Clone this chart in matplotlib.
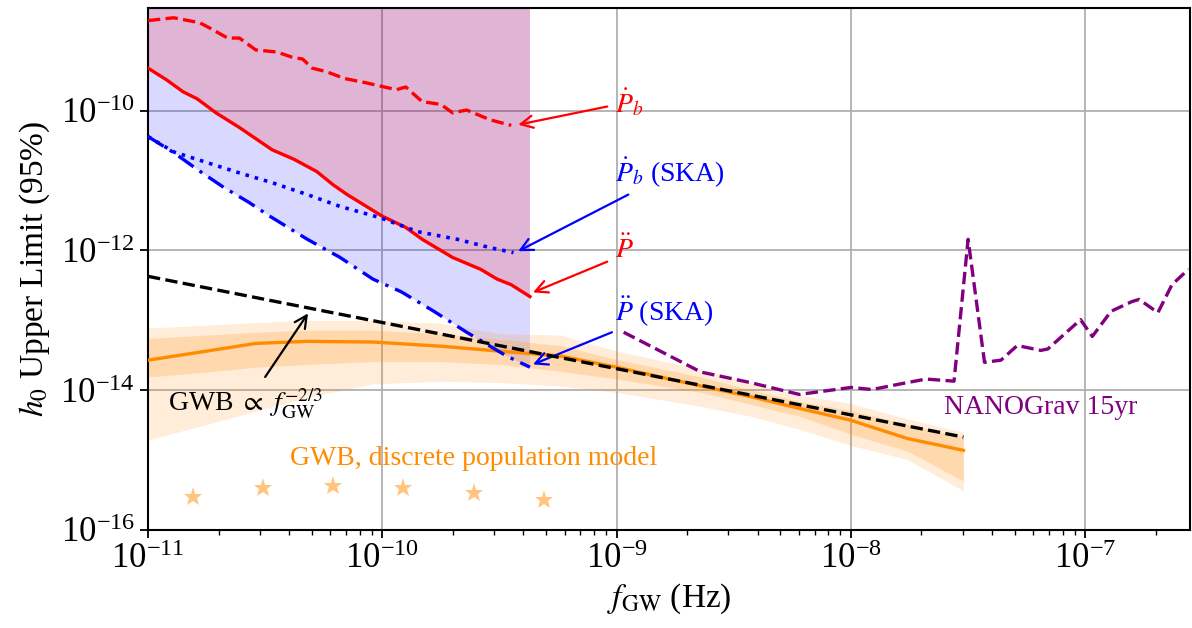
import numpy as np
import matplotlib
matplotlib.use('Agg')
import matplotlib.pyplot as plt
from matplotlib.ticker import FixedLocator, LogLocator, NullLocator, NullFormatter

plt.rcParams['font.family'] = ['Liberation Serif', 'DejaVu Serif']
plt.rcParams['mathtext.fontset'] = 'stix'

# ---------------- data (log10 of frequency [Hz] and strain) ----------------
# Pdot_b (current timing) upper limit - red dashed
pb_dot_logf = [-11.0, -10.89, -10.78, -10.74, -10.66, -10.61, -10.54, -10.45, -10.38, -10.34, -10.30,
               -10.24, -10.16, -10.07, -9.94, -9.90, -9.83, -9.75, -9.70, -9.64, -9.54, -9.45]
pb_dot_logh = [-8.71, -8.67, -8.74, -8.81, -8.96, -8.96, -9.13, -9.16, -9.24, -9.26, -9.39,
               -9.44, -9.54, -9.60, -9.70, -9.66, -9.87, -9.91, -10.03, -9.99, -10.13, -10.21]
# P double dot - red solid
p_ddot_logf = [-11.0, -10.92, -10.85, -10.79, -10.71, -10.61, -10.47, -10.38, -10.28, -10.21,
               -10.15, -10.00, -9.95, -9.90, -9.83, -9.70, -9.58, -9.51, -9.45, -9.37]
p_ddot_logh = [-9.39, -9.56, -9.73, -9.83, -10.03, -10.24, -10.56, -10.69, -10.87, -11.06,
               -11.20, -11.51, -11.59, -11.67, -11.84, -12.10, -12.27, -12.41, -12.49, -12.66]
# Pdot_b (SKA) - blue dotted
pb_dot_ska_logf = [-11.0, -10.89, -10.75, -10.61, -10.47, -10.32, -10.18, -10.01, -9.85, -9.68, -9.54, -9.44]
pb_dot_ska_logh = [-10.37, -10.59, -10.74, -10.89, -11.03, -11.20, -11.37, -11.53, -11.73, -11.84, -11.96, -12.03]
# P double dot (SKA) - blue dash-dot
p_ddot_ska_logf = [-11.0, -10.89, -10.79, -10.68, -10.57, -10.48, -10.32, -10.18, -10.04, -9.92,
                   -9.78, -9.64, -9.54, -9.47, -9.37]
p_ddot_ska_logh = [-10.37, -10.60, -10.84, -11.09, -11.31, -11.51, -11.84, -12.10, -12.41, -12.59,
                   -12.87, -13.17, -13.37, -13.51, -13.67]
# GWB power law  h ~ f^{-2/3}
gwb_pl_logf = [-11.0, -7.52]
gwb_pl_logh = [-12.37, -14.67]
# GWB discrete population model: median, 1-sigma and 2-sigma bands
gwb_pop_logf = [-11.0, -10.75, -10.54, -10.32, -10.04, -9.75, -9.50, -9.24, -9.00, -8.64,
                -8.43, -8.22, -8.00, -7.76, -7.52]
gwb_pop_med = [-13.57, -13.44, -13.33, -13.30, -13.31, -13.37, -13.44, -13.51, -13.67, -13.94,
               -14.09, -14.26, -14.43, -14.69, -14.86]
gwb_pop_1s_hi = [-13.26, -13.21, -13.17, -13.14, -13.14, -13.19, -13.27, -13.36, -13.56, -13.81,
                 -13.99, -14.16, -14.29, -14.49, -14.67]
gwb_pop_1s_lo = [-13.81, -13.74, -13.67, -13.63, -13.59, -13.59, -13.63, -13.73, -13.84, -14.03,
                 -14.20, -14.37, -14.63, -14.87, -15.30]
gwb_pop_2s_hi = [-13.11, -13.07, -13.03, -13.00, -13.00, -13.04, -13.19, -13.21, -13.44, -13.70,
                 -13.89, -14.07, -14.19, -14.41, -14.60]
gwb_pop_2s_lo = [-14.71, -14.49, -14.30, -14.10, -13.91, -13.87, -13.89, -13.94, -14.03, -14.23,
                 -14.37, -14.56, -14.79, -14.99, -15.44]
# discrete sources (stars)
stars_logf = [-10.81, -10.51, -10.21, -9.91, -9.61, -9.31]
stars_logh = [-15.53, -15.40, -15.37, -15.40, -15.47, -15.57]
# NANOGrav 15yr - purple dashed
nano_logf = [-8.97, -8.64, -8.43, -8.22, -8.00, -7.91, -7.79, -7.68, -7.56, -7.50, -7.43, -7.36,
             -7.29, -7.19, -7.16, -7.02, -6.97, -6.89, -6.80, -6.77, -6.69, -6.63, -6.56]
nano_logh = [-13.17, -13.74, -13.89, -14.06, -13.96, -13.99, -13.91, -13.84, -13.87, -11.84, -13.60, -13.57,
             -13.36, -13.43, -13.41, -12.99, -13.23, -12.87, -12.73, -12.70, -12.89, -12.49, -12.27]

x_ticks_log = [-11, -10, -9, -8, -7]
y_ticks_log = [-16, -14, -12, -10]

P = lambda a: 10.0 ** np.asarray(a, dtype=float)

fig = plt.figure(figsize=(11.92, 6.28), dpi=100)
ax = fig.add_axes([148 / 1192, 1 - 530 / 628, (1190 - 148) / 1192, (530 - 8) / 628])
ax.set_xscale('log')
ax.set_yscale('log')
ax.set_xlim(1e-11, 10 ** -6.553)
ax.set_ylim(1e-16, 10 ** -8.53)

TOP = 1.0
# shaded exclusion regions
ax.fill_between(P(p_ddot_ska_logf), P(p_ddot_ska_logh), TOP, color='blue', alpha=0.15, lw=0, zorder=1)
ax.fill_between(P(p_ddot_logf), P(p_ddot_logh), TOP, color='red', alpha=0.17, lw=0, zorder=1)

# GWB bands
ax.fill_between(P(gwb_pop_logf), P(gwb_pop_2s_lo), P(gwb_pop_2s_hi), color='darkorange', alpha=0.15, lw=0, zorder=2)
ax.fill_between(P(gwb_pop_logf), P(gwb_pop_1s_lo), P(gwb_pop_1s_hi), color='darkorange', alpha=0.2, lw=0, zorder=2)
ax.plot(P(gwb_pop_logf), P(gwb_pop_med), color='darkorange', lw=2.4, zorder=3)

ax.plot(P(pb_dot_logf), P(pb_dot_logh), color='red', ls='--', lw=2.4, zorder=4)
ax.plot(P(p_ddot_logf), P(p_ddot_logh), color='red', ls='-', lw=2.4, zorder=4)
ax.plot(P(pb_dot_ska_logf), P(pb_dot_ska_logh), color='blue', ls=':', lw=2.6, zorder=4)
ax.plot(P(p_ddot_ska_logf), P(p_ddot_ska_logh), color='blue', lw=2.4, zorder=4,
        dashes=(5.5, 2.2, 1, 2.2))
ax.plot(P(gwb_pl_logf), P(gwb_pl_logh), color='black', ls='--', lw=2.4, zorder=5)
ax.plot(P(nano_logf), P(nano_logh), color='purple', ls='--', lw=2.4, zorder=4)
ax.plot(P(stars_logf), P(stars_logh), ls='none', marker='*', ms=14, mew=0,
        color='darkorange', alpha=0.5, zorder=4)

# annotations
arrow = lambda c: dict(arrowstyle='->', color=c, lw=1.6, mutation_scale=22, shrinkA=0, shrinkB=0)
fs = 20
ax.text(P(-9.007), P(-9.886), r'$\dot{P}_b$', color='red', fontsize=fs, ha='left', va='center')
ax.annotate('', xy=(P(-9.42), P(-10.20)), xytext=(P(-9.04), P(-9.94)), arrowprops=arrow('red'))
ax.text(P(-9.007), P(-10.886), r'$\dot{P}_b$ (SKA)', color='blue', fontsize=fs, ha='left', va='center')
ax.annotate('', xy=(P(-9.42), P(-12.01)), xytext=(P(-8.95), P(-11.20)), arrowprops=arrow('blue'))
ax.text(P(-9.007), P(-11.99), r'$\ddot{P}$', color='red', fontsize=fs, ha='left', va='center')
ax.annotate('', xy=(P(-9.357), P(-12.60)), xytext=(P(-9.04), P(-12.16)), arrowprops=arrow('red'))
ax.text(P(-9.007), P(-12.886), r'$\ddot{P}$ (SKA)', color='blue', fontsize=fs, ha='left', va='center')
ax.annotate('', xy=(P(-9.357), P(-13.63)), xytext=(P(-9.02), P(-13.17)), arrowprops=arrow('blue'))
ax.text(P(-10.915), P(-14.2), r'GWB $\propto$ $f_{\rm GW}^{-2/3}$', color='black', fontsize=fs,
        ha='left', va='center')
ax.annotate('', xy=(P(-10.317), P(-12.90)), xytext=(P(-10.50), P(-13.81)), arrowprops=arrow('black'))
ax.text(P(-10.394), P(-14.98), 'GWB, discrete population model', color='darkorange', fontsize=fs,
        ha='left', va='center')
ax.text(P(-7.603), P(-14.25), 'NANOGrav 15yr', color='purple', fontsize=fs, ha='left', va='center')

# axes styling
ax.xaxis.set_major_locator(FixedLocator(P(x_ticks_log)))
ax.xaxis.set_minor_locator(LogLocator(base=10, subs=np.arange(2, 10), numticks=20))
ax.xaxis.set_minor_formatter(NullFormatter())
ax.yaxis.set_major_locator(FixedLocator(P(y_ticks_log)))
ax.yaxis.set_minor_locator(NullLocator())
ax.tick_params(which='major', labelsize=25, length=6, width=1.3)
ax.tick_params(which='minor', length=3.5, width=1.0)
ax.grid(True, which='major', color='#b0b0b0', lw=1.3, zorder=0)
ax.set_axisbelow(True)
for s in ax.spines.values():
    s.set_linewidth(1.5)
ax.set_xlabel(r'$f_{\rm GW}$ (Hz)', fontsize=24, labelpad=4)
ax.set_ylabel(r'$h_0$ Upper Limit (95%)', fontsize=24, labelpad=6)

fig.savefig('out.png', dpi=100)
